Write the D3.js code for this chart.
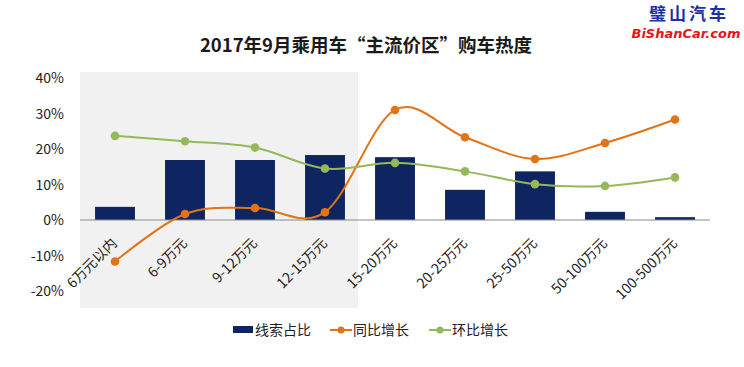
<!DOCTYPE html>
<html>
<head>
<meta charset="utf-8">
<script src="https://cdn.jsdelivr.net/npm/d3@7"></script>
<style>
  body { margin: 0; background: #fff; }
  svg { font-family: "Noto Sans CJK SC", "Noto Sans", sans-serif; }
</style>
</head>
<body>
<div class="chart"></div>
<script>
// data
const categories = ["6万元以内", "6-9万元", "9-12万元", "12-15万元", "15-20万元", "20-25万元", "25-50万元", "50-100万元", "100-500万元"];
const leadShare = [3.7, 16.9, 16.9, 18.3, 17.7, 8.5, 13.7, 2.3, 0.8];   // 线索占比
const yoyGrowth = [-11.7, 1.7, 3.4, 2.2, 31.0, 23.3, 17.2, 21.7, 28.3]; // 同比增长
const momGrowth = [23.7, 22.2, 20.4, 14.5, 16.1, 13.7, 10.1, 9.6, 12.0]; // 环比增长
const yTicks = [40, 30, 20, 10, 0, -10, -20];
const seriesNames = ["线索占比", "同比增长", "环比增长"];

// setup chart
const width = 744;
const height = 367;
const svg = d3.select(".chart").append("svg").attr("width", width).attr("height", height);

const colors = { bar: "#0f2561", yoy: "#e07417", mom: "#94b85a" };

const x = d3.scaleBand().domain(categories).range([80, 710]).paddingInner(0.43).paddingOuter(0.215);
const y = d3.scaleLinear().domain([-20, 40]).range([291, 78]);
const cx = (c) => x(c) + x.bandwidth() / 2;

// grey highlight band behind first four categories
svg.append("rect")
   .attr("x", 80).attr("y", 72)
   .attr("width", x(categories[3]) + x.bandwidth() + 13 - 80)
   .attr("height", 236)
   .attr("fill", "#f1f1f1");

// title
svg.append("text")
   .attr("x", 366).attr("y", 52)
   .attr("text-anchor", "middle")
   .attr("font-size", 18.5).attr("font-weight", "bold").attr("fill", "#1a1a1a")
   .text("2017年9月乘用车“主流价区”购车热度");

// logo
svg.append("text")
   .attr("x", 689).attr("y", 20)
   .attr("text-anchor", "middle")
   .attr("font-size", 17).attr("font-weight", "bold").attr("fill", "#1a2fa8")
   .attr("letter-spacing", 3)
   .text("璧山汽车");
svg.append("text")
   .attr("x", 686).attr("y", 38)
   .attr("text-anchor", "middle")
   .attr("font-family", "DejaVu Sans")
   .attr("font-size", 13).attr("font-weight", "bold").attr("font-style", "italic").attr("fill", "#e8141a")
   .text("BiShanCar.com");

// y axis labels
svg.append("g").selectAll("text").data(yTicks).enter().append("text")
   .attr("x", 64).attr("y", (d) => y(d) + 5)
   .attr("text-anchor", "end")
   .attr("font-size", 14).attr("fill", "#222")
   .text((d) => d + "%");

// bars
svg.append("g").selectAll("rect").data(leadShare).enter().append("rect")
   .attr("x", (d, i) => x(categories[i]))
   .attr("y", (d) => y(d))
   .attr("width", x.bandwidth())
   .attr("height", (d) => y(0) - y(d))
   .attr("fill", colors.bar);

// zero line
svg.append("line")
   .attr("x1", 80).attr("x2", 710)
   .attr("y1", y(0)).attr("y2", y(0))
   .attr("stroke", "#8a8a8a").attr("stroke-width", 1);

// x labels, rotated
svg.append("g").selectAll("text").data(categories).enter().append("text")
   .attr("transform", (d) => `translate(${cx(d) + 3},${y(0) + 24}) rotate(-45)`)
   .attr("text-anchor", "end")
   .attr("font-size", 14).attr("fill", "#222")
   .text((d) => d);

// smooth lines with markers
const line = d3.line()
   .x((d, i) => cx(categories[i]))
   .y((d) => y(d))
   .curve(d3.curveCardinal.tension(0));

[[yoyGrowth, colors.yoy], [momGrowth, colors.mom]].forEach(([vals, col]) => {
   svg.append("path").datum(vals)
      .attr("d", line)
      .attr("fill", "none").attr("stroke", col).attr("stroke-width", 2);
   svg.append("g").selectAll("circle").data(vals).enter().append("circle")
      .attr("cx", (d, i) => cx(categories[i]))
      .attr("cy", (d) => y(d))
      .attr("r", 4.3)
      .attr("fill", col);
});

// legend
const legend = svg.append("g").attr("font-size", 14).attr("fill", "#222");
legend.append("rect").attr("x", 233).attr("y", 326).attr("width", 20).attr("height", 7).attr("fill", colors.bar);
legend.append("text").attr("x", 255).attr("y", 335).text(seriesNames[0]);
[[330, colors.yoy, seriesNames[1]], [429, colors.mom, seriesNames[2]]].forEach(([lx, col, name]) => {
   legend.append("line").attr("x1", lx).attr("x2", lx + 22).attr("y1", 330).attr("y2", 330)
      .attr("stroke", col).attr("stroke-width", 2);
   legend.append("circle").attr("cx", lx + 11).attr("cy", 330).attr("r", 3.5).attr("fill", col);
   legend.append("text").attr("x", lx + 23).attr("y", 335).text(name);
});
</script>
</body>
</html>
